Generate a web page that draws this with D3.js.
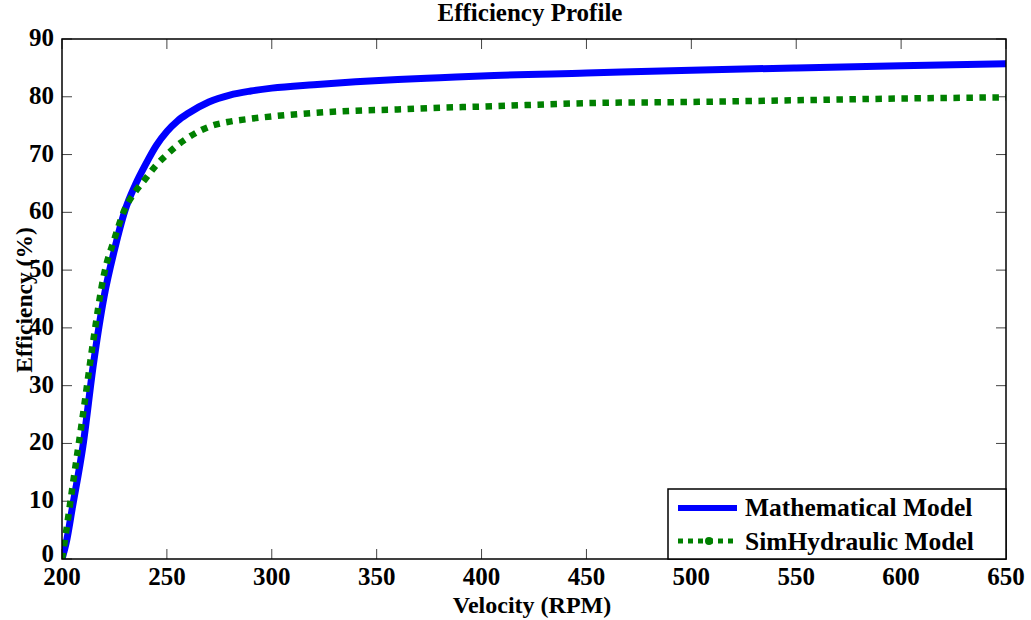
<!DOCTYPE html>
<html>
<head>
<meta charset="utf-8">
<script src="https://cdn.jsdelivr.net/npm/d3@7"></script>
<style>
  body { margin: 0; background: #fff; }
  text { font-family: "Liberation Serif", "Times New Roman", serif; font-weight: bold; fill: #000; }
</style>
</head>
<body>
<svg id="chart" width="1031" height="620"></svg>
<script>
// velocity (RPM) sample points
const velocity = [200, 202, 205, 210, 215, 220, 225, 230, 235, 240, 245, 250, 255, 260, 270, 280, 290, 300,
  320, 340, 360, 380, 400, 450, 500, 550, 600, 650];

// efficiency (%)
const mathModel = [0, 2.8, 9, 19.6, 33.8, 45.3, 53.5, 60.3, 64.8, 68.4, 71.6, 74, 75.8, 77.1, 79.1, 80.3, 81.0, 81.5,
  82.1, 82.6, 83.0, 83.3, 83.6, 84.1, 84.6, 85.0, 85.35, 85.7];
const simModel = [0, 4.8, 12.5, 25, 38, 49.2, 55.4, 60.6, 63.6, 65.9, 68.2, 70, 71.6, 72.9, 74.8, 75.7, 76.2, 76.6,
  77.2, 77.6, 77.8, 78.1, 78.3, 78.9, 79.1, 79.4, 79.7, 79.9];

const xTicks = [200, 250, 300, 350, 400, 450, 500, 550, 600, 650];
const yTicks = [0, 10, 20, 30, 40, 50, 60, 70, 80, 90];
const seriesNames = ['Mathematical Model', 'SimHydraulic Model'];

const BLUE = '#0000ff', GREEN = '#008000';

const pLeft = 62, pRight = 1006, pTop = 39, pBottom = 559;

const svg = d3.select('#chart');

const xScale = d3.scaleLinear().domain([200, 650]).range([pLeft, pRight]);
const yScale = d3.scaleLinear().domain([0, 90]).range([pBottom, pTop]);

svg.append('defs').append('clipPath').attr('id', 'plotClip')
  .append('rect')
  .attr('x', pLeft).attr('y', pTop)
  .attr('width', pRight - pLeft).attr('height', pBottom - pTop);

// ticks pointing inward on all four sides
const tickLen = 10;
const tickG = svg.append('g').attr('stroke', '#444').attr('stroke-width', 1);
xTicks.forEach(t => {
  tickG.append('line').attr('x1', xScale(t)).attr('x2', xScale(t)).attr('y1', pBottom).attr('y2', pBottom - tickLen);
  tickG.append('line').attr('x1', xScale(t)).attr('x2', xScale(t)).attr('y1', pTop).attr('y2', pTop + tickLen);
});
yTicks.forEach(t => {
  tickG.append('line').attr('x1', pLeft).attr('x2', pLeft + tickLen).attr('y1', yScale(t)).attr('y2', yScale(t));
  tickG.append('line').attr('x1', pRight).attr('x2', pRight - tickLen).attr('y1', yScale(t)).attr('y2', yScale(t));
});

// tick labels
svg.append('g').selectAll('text').data(xTicks).enter().append('text')
  .attr('x', d => xScale(d))
  .attr('y', pBottom + 26)
  .attr('text-anchor', 'middle')
  .style('font-size', '25px')
  .text(d => d);

svg.append('g').selectAll('text').data(yTicks).enter().append('text')
  .attr('x', pLeft - 8)
  .attr('y', d => yScale(d) + 7)
  .attr('text-anchor', 'end')
  .style('font-size', '25px')
  .text(d => (d === 0 ? '' : d));

// the 0 label sits a touch higher so it clears the 200 below it
svg.append('text')
  .attr('x', pLeft - 8)
  .attr('y', yScale(0) + 3)
  .attr('text-anchor', 'end')
  .style('font-size', '25px')
  .text(yTicks[0]);

// lines
const effLine = d3.line()
  .x((d, i) => xScale(velocity[i]))
  .y(d => yScale(d))
  .curve(d3.curveMonotoneX);

const plot = svg.append('g').attr('clip-path', 'url(#plotClip)');

plot.append('path')
  .attr('d', effLine(mathModel))
  .attr('fill', 'none')
  .attr('stroke', BLUE)
  .attr('stroke-width', 7);

plot.append('path')
  .attr('d', effLine(simModel))
  .attr('fill', 'none')
  .attr('stroke', GREEN)
  .attr('stroke-width', 6.5)
  .attr('stroke-dasharray', '6.5,6.5');

// axes box
svg.append('rect')
  .attr('x', pLeft).attr('y', pTop)
  .attr('width', pRight - pLeft).attr('height', pBottom - pTop)
  .attr('fill', 'none')
  .attr('stroke', '#000')
  .attr('stroke-width', 1.5);

// legend
const lg = svg.append('g');
lg.append('rect')
  .attr('x', 668).attr('y', 489)
  .attr('width', pRight - 668).attr('height', pBottom - 489)
  .attr('fill', '#fff')
  .attr('stroke', '#000')
  .attr('stroke-width', 1.5);

lg.append('line')
  .attr('x1', 678).attr('x2', 737).attr('y1', 508).attr('y2', 508)
  .attr('stroke', BLUE).attr('stroke-width', 6);
lg.append('line')
  .attr('x1', 678).attr('x2', 737).attr('y1', 541).attr('y2', 541)
  .attr('stroke', GREEN).attr('stroke-width', 5).attr('stroke-dasharray', '5,5');
lg.append('circle')
  .attr('cx', 709).attr('cy', 541).attr('r', 4)
  .attr('fill', GREEN);

lg.selectAll('text.legend').data(seriesNames).enter().append('text')
  .attr('class', 'legend')
  .attr('x', 745)
  .attr('y', (d, i) => 516 + i * 34)
  .style('font-size', '25.5px')
  .text(d => d);

// title and axis labels
svg.append('text')
  .attr('x', (pLeft + pRight) / 2 - 4)
  .attr('y', 21)
  .attr('text-anchor', 'middle')
  .style('font-size', '25px')
  .text('Efficiency Profile');

svg.append('text')
  .attr('x', (pLeft + pRight) / 2 - 2)
  .attr('y', 613)
  .attr('text-anchor', 'middle')
  .style('font-size', '24px')
  .text('Velocity (RPM)');

svg.append('text')
  .attr('transform', 'translate(32,300) rotate(-90)')
  .attr('text-anchor', 'middle')
  .style('font-size', '23.5px')
  .text('Efficiency (%)');
</script>
</body>
</html>
